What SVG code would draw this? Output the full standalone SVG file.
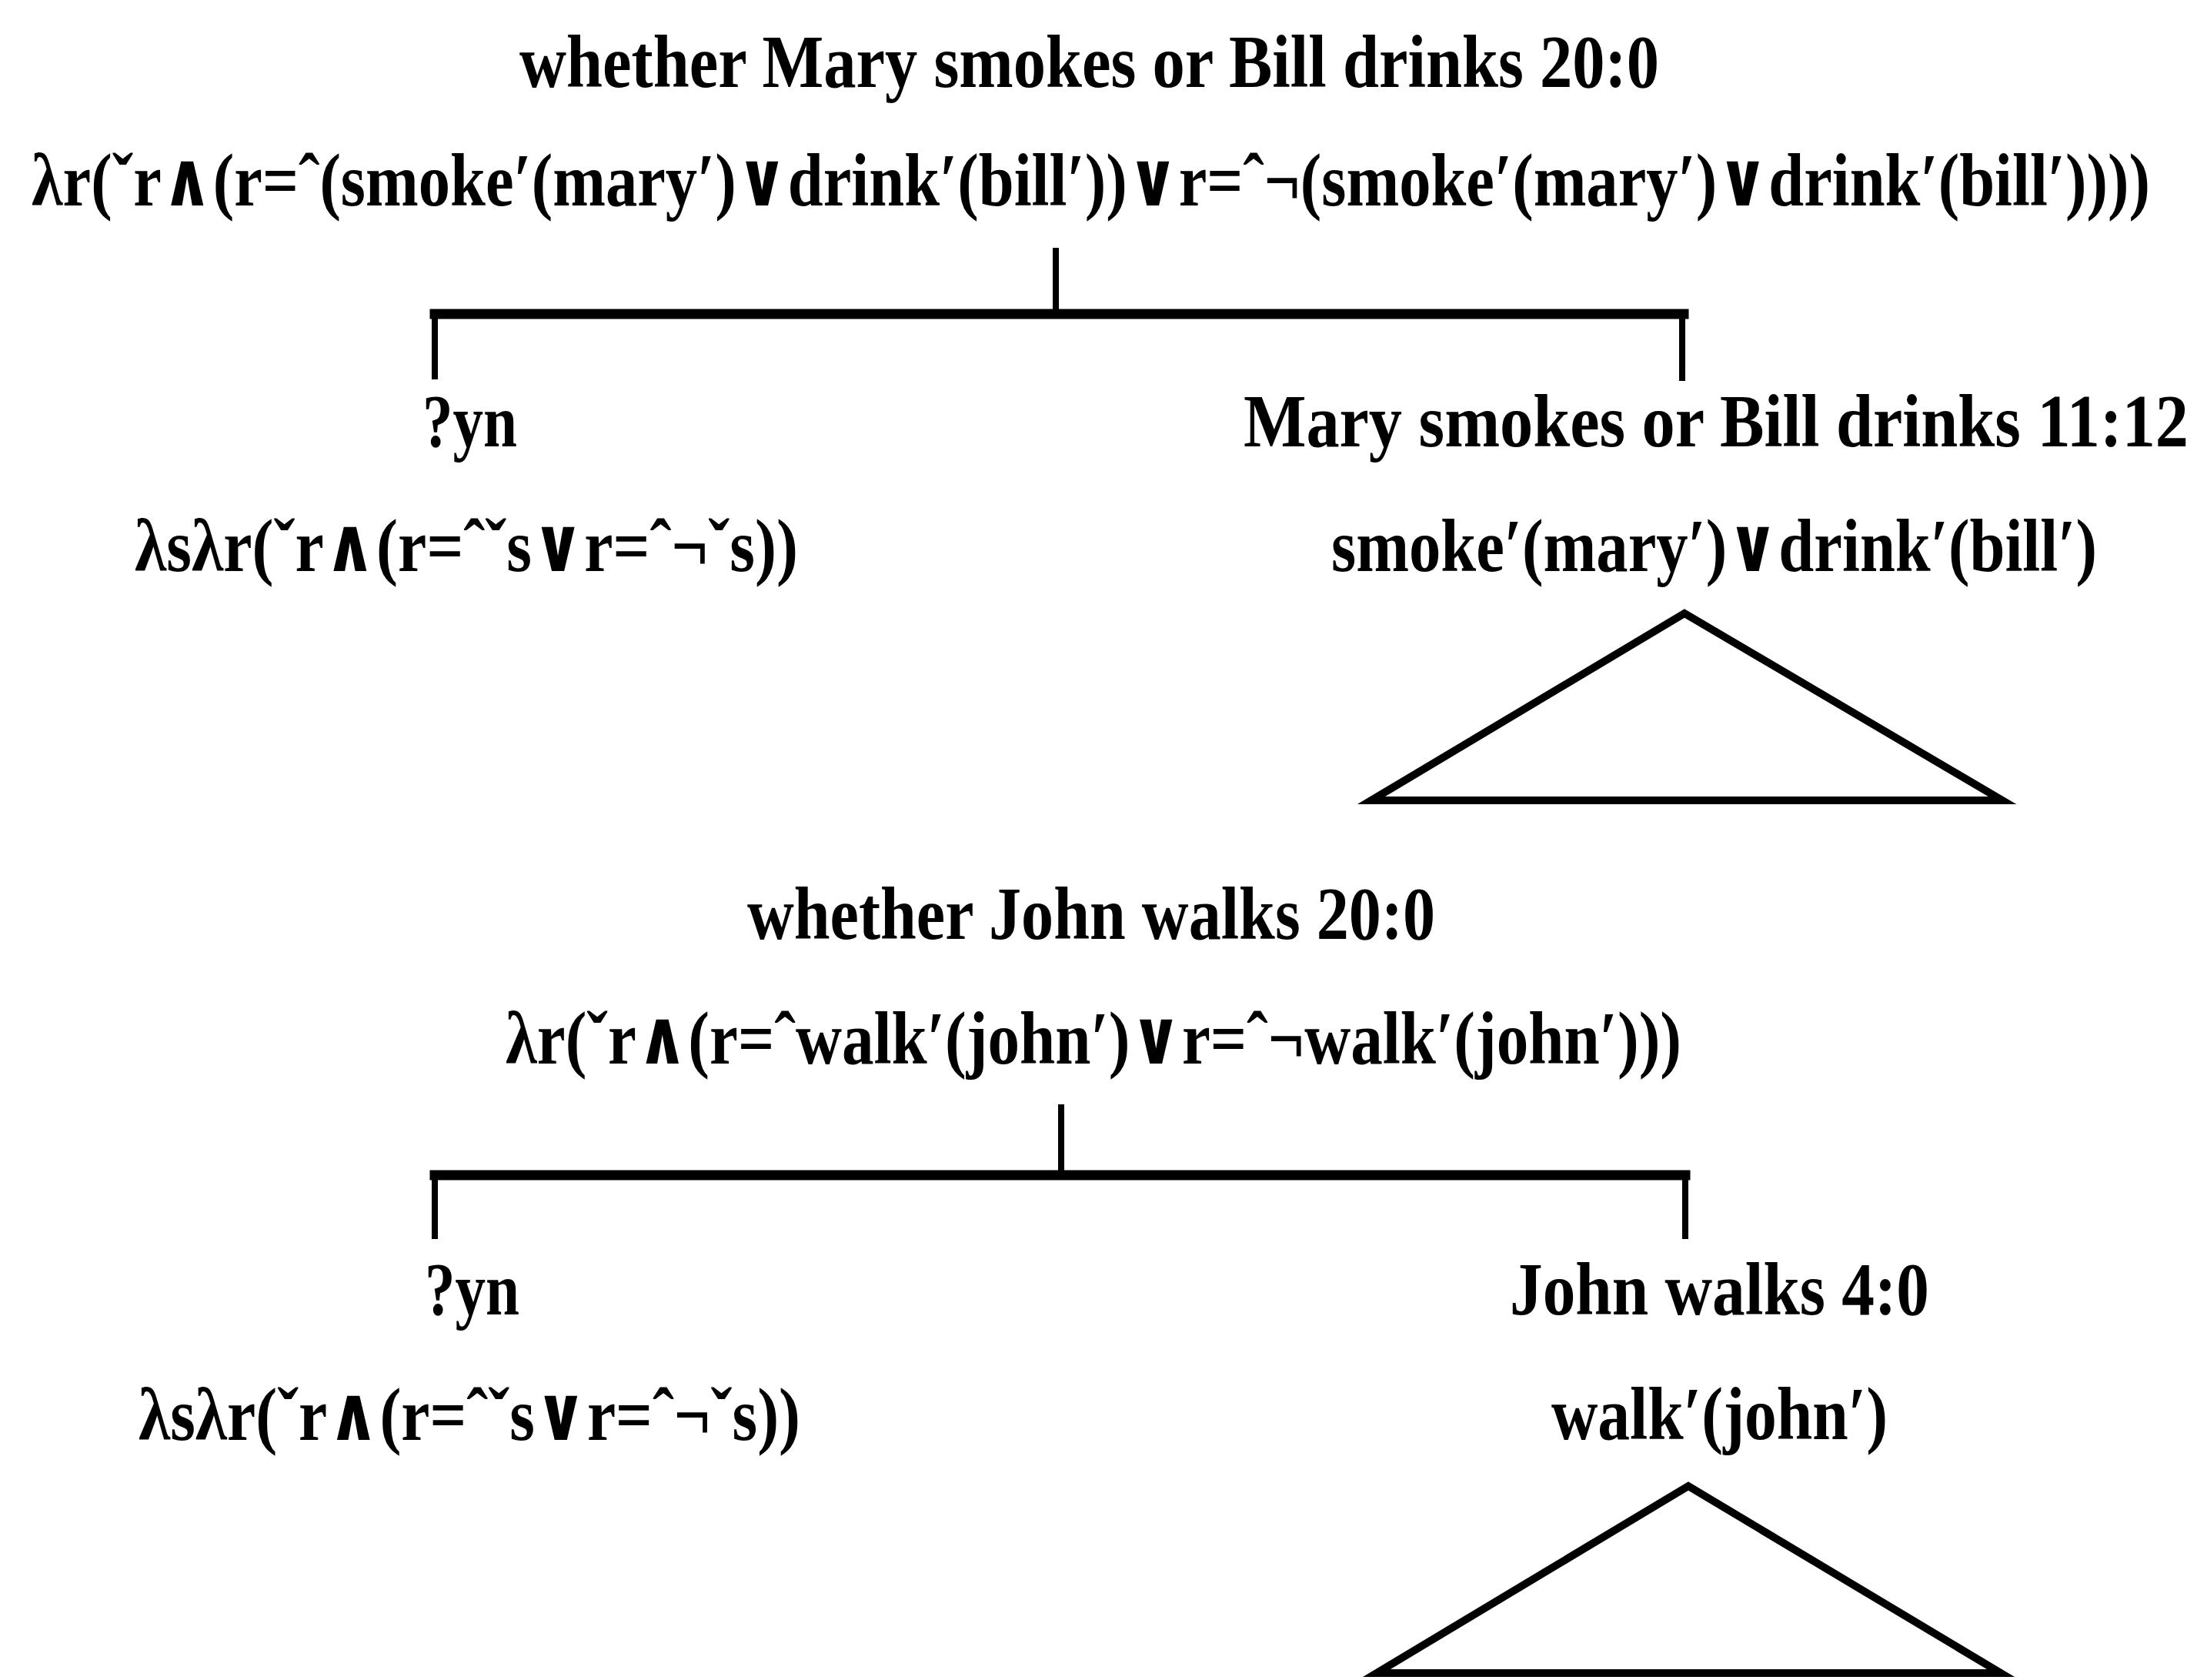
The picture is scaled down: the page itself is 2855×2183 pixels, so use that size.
<svg xmlns="http://www.w3.org/2000/svg" width="2855" height="2183" viewBox="0 0 2855 2183">
<style>
text { font-family: "Liberation Serif", "DejaVu Serif", serif; font-weight: bold; font-size: 98px; fill: #000; }
.bar { stroke: #000; stroke-width: 13; fill: none; stroke-linecap: square; }
.vl { stroke: #000; stroke-width: 8; fill: none; }
.tri { stroke: #000; stroke-width: 10; fill: none; stroke-linejoin: miter; }
</style>
<rect width="2855" height="2183" fill="#fff"/>
<g id="connectors">
  <line class="vl" x1="1372" y1="322" x2="1372" y2="408"/>
  <line class="bar" x1="565" y1="408" x2="2188" y2="408"/>
  <line class="vl" x1="565" y1="408" x2="565" y2="493"/>
  <line class="vl" x1="2186" y1="408" x2="2186" y2="495"/>
  <line class="vl" x1="1379" y1="1435" x2="1379" y2="1527"/>
  <line class="bar" x1="565" y1="1527" x2="2190" y2="1527"/>
  <line class="vl" x1="565" y1="1527" x2="565" y2="1610"/>
  <line class="vl" x1="2190" y1="1527" x2="2190" y2="1610"/>
</g>
<g id="root1">
  <text x="675" y="113" textLength="1481" lengthAdjust="spacingAndGlyphs">whether Mary smokes or Bill drinks 20:0</text>
  <text x="41" y="267" textLength="2753" lengthAdjust="spacingAndGlyphs">λr(ˇr∧(r=ˆ(smoke′(mary′)∨drink′(bill′))∨r=ˆ¬(smoke′(mary′)∨drink′(bill′))))</text>
</g>
<g id="yn1">
  <text x="549" y="580" textLength="123" lengthAdjust="spacingAndGlyphs">?yn</text>
  <text x="175" y="742" textLength="862" lengthAdjust="spacingAndGlyphs">λsλr(ˇr∧(r=ˆˇs∨r=ˆ¬ˇs))</text>
</g>
<g id="clause1">
  <text x="1616" y="580" textLength="1228" lengthAdjust="spacingAndGlyphs">Mary smokes or Bill drinks 11:12</text>
  <text x="1730" y="742" textLength="995" lengthAdjust="spacingAndGlyphs">smoke′(mary′)∨drink′(bill′)</text>
  <polygon class="tri" points="2189,797 1782,1040 2602,1040"/>
</g>
<g id="root2">
  <text x="971" y="1220" textLength="894" lengthAdjust="spacingAndGlyphs">whether John walks 20:0</text>
  <text x="657" y="1382" textLength="1528" lengthAdjust="spacingAndGlyphs">λr(ˇr∧(r=ˆwalk′(john′)∨r=ˆ¬walk′(john′)))</text>
</g>
<g id="yn2">
  <text x="552" y="1708" textLength="123" lengthAdjust="spacingAndGlyphs">?yn</text>
  <text x="180" y="1871" textLength="860" lengthAdjust="spacingAndGlyphs">λsλr(ˇr∧(r=ˆˇs∨r=ˆ¬ˇs))</text>
</g>
<g id="clause2">
  <text x="1962" y="1708" textLength="545" lengthAdjust="spacingAndGlyphs">John walks 4:0</text>
  <text x="2016" y="1870" textLength="437" lengthAdjust="spacingAndGlyphs">walk′(john′)</text>
  <polygon class="tri" points="2194,1931 1789,2174 2600,2174"/>
</g>
</svg>
